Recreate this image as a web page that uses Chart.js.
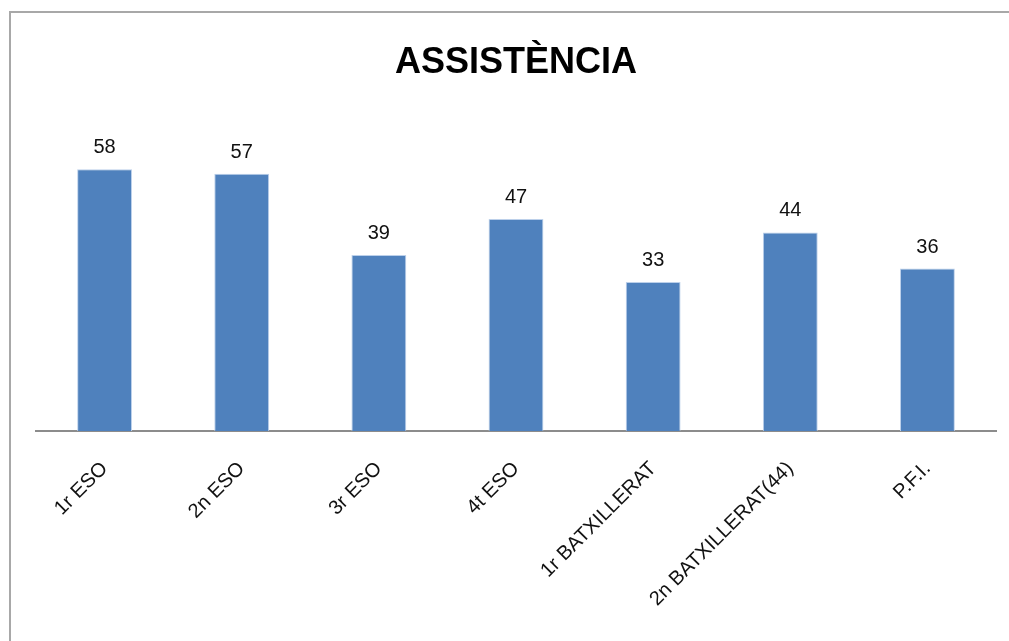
<!DOCTYPE html>
<html>
<head>
<meta charset="utf-8">
<script src="https://cdn.jsdelivr.net/npm/chart.js@4/dist/chart.umd.min.js"></script>
<style>
  html, body { margin: 0; padding: 0; width: 1009px; height: 641px; overflow: hidden; background: #fff; }
  #frame { position: absolute; left: 9px; top: 11px; width: 1100px; height: 700px; border: 2px solid #a8a8a8; box-sizing: border-box; }
  #wrap { position: absolute; left: 0; top: 0; width: 1009px; height: 641px; }
</style>
</head>
<body>
<div id="frame"></div>
<div id="wrap"><canvas id="c" width="1009" height="641"></canvas></div>
<script>
const titleText = "ASSISTÈNCIA";
const categories = ["1r ESO", "2n ESO", "3r ESO", "4t ESO", "1r BATXILLERAT", "2n BATXILLERAT(44)", "P.F.I."];
const values = [58, 57, 39, 47, 33, 44, 36];
const yMin = 0;
const yMax = 70;

const FONT = "'Liberation Sans', Arial, sans-serif";

const valueLabels = {
  id: 'valueLabels',
  afterDatasetsDraw(chart) {
    const ctx = chart.ctx;
    const meta = chart.getDatasetMeta(0);
    ctx.save();
    ctx.font = "20px " + FONT;
    ctx.fillStyle = "#111";
    ctx.textAlign = "center";
    ctx.textBaseline = "alphabetic";
    meta.data.forEach((bar, i) => {
      ctx.fillText(String(chart.data.datasets[0].data[i]), bar.x, bar.y - 16);
    });
    ctx.restore();
  }
};

new Chart(document.getElementById('c'), {
  type: 'bar',
  data: {
    labels: categories,
    datasets: [{
      data: values,
      backgroundColor: '#4f81bd',
      borderColor: '#bcd0ea',
      borderWidth: { top: 1, left: 1, right: 1, bottom: 0 },
      barPercentage: 0.4,
      categoryPercentage: 1.0
    }]
  },
  plugins: [valueLabels],
  options: {
    responsive: false,
    animation: false,
    devicePixelRatio: 1,
    layout: { padding: { left: 36, right: 13, top: 0, bottom: 0 } },
    plugins: {
      legend: { display: false },
      tooltip: { enabled: false },
      title: {
        display: true,
        text: titleText,
        color: '#000',
        font: { family: FONT, size: 36, weight: 'bold', lineHeight: 1.2 },
        padding: { top: 41, bottom: 31 }
      }
    },
    scales: {
      y: {
        display: false,
        min: yMin,
        max: yMax
      },
      x: {
        grid: { display: false, drawTicks: false },
        border: { display: true, color: '#8c8c8c', width: 2 },
        ticks: {
          color: '#111',
          font: { family: FONT, size: 20 },
          minRotation: 45,
          maxRotation: 45,
          padding: 26,
          autoSkip: false
        },
        afterFit(scale) { scale.height = 210; }
      }
    }
  }
});
</script>
</body>
</html>
